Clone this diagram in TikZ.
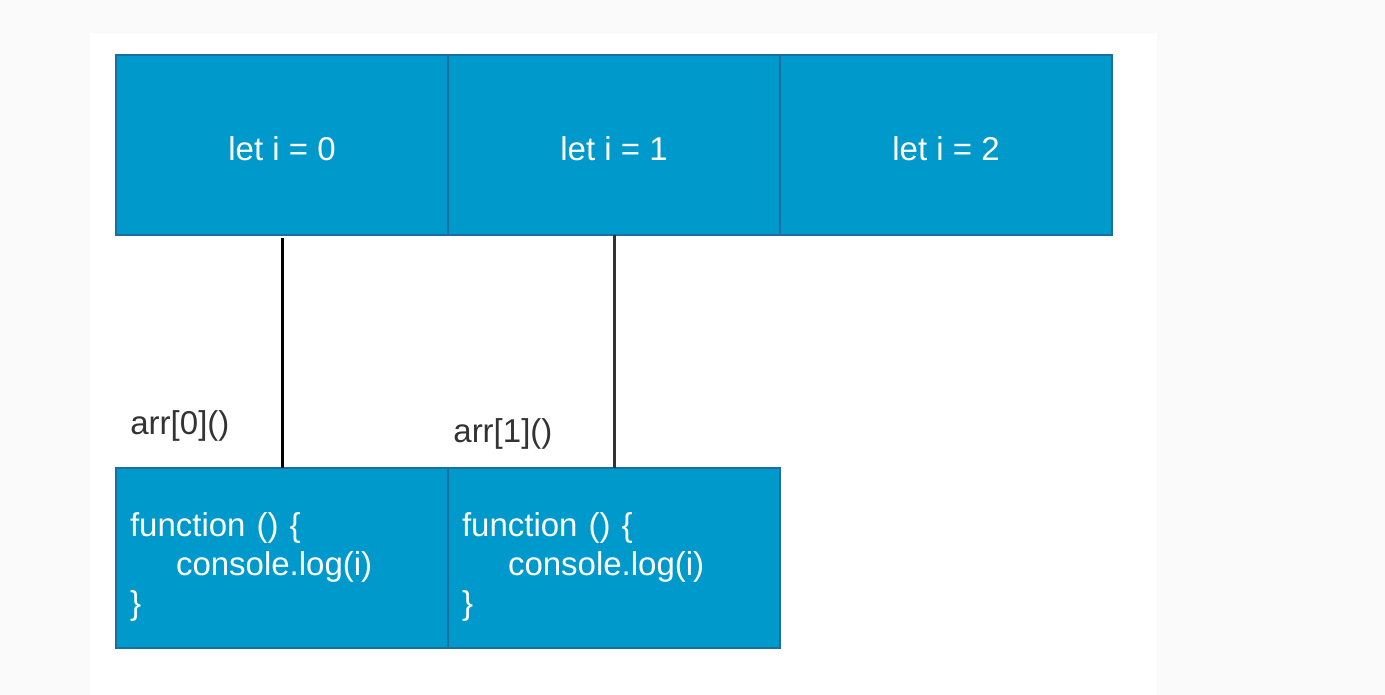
\documentclass[tikz,border=0pt]{standalone}
\usepackage{fontspec}
\setmainfont{Liberation Sans}
\usetikzlibrary{positioning}
\definecolor{cellblue}{HTML}{0099CC}
\definecolor{cellline}{HTML}{1A6EA0}
\definecolor{labelgray}{HTML}{333333}
\definecolor{pagegray}{HTML}{FAFAFA}
\tikzset{
  cell/.style={draw=cellline,line width=1pt,fill=cellblue,text=white,outer sep=0pt,
    minimum width=166pt,minimum height=90pt,inner sep=0pt,
    font=\fontsize{16.5pt}{19.5pt}\selectfont},
  letcell/.style={cell,text height=16pt},
  codecell/.style={cell,text width=152pt,inner xsep=7pt,align=left,
    execute at begin node=\rule{0pt}{21pt}},
  tag/.style={text=labelgray,inner sep=0pt,font=\fontsize{16.5pt}{19.5pt}\selectfont},
  link/.style={line width=1.5pt}
}
\begin{document}
\begin{tikzpicture}[x=0.5pt,y=-0.5pt]
\fill[pagegray](0,0) rectangle (1385,695);
\fill[white](90,33) rectangle (1157,695);
\useasboundingbox(0,0) rectangle (1385,695);
\node[letcell](T0) at (282,145){let i = 0};
\node[letcell,right=0pt of T0](T1){let i = 1};
\node[letcell,right=0pt of T1](T2){let i = 2};
\node[codecell,below=116.5pt of T0](F0){function () \{\\\hspace*{23pt}console.log(i)\\\}};
\node[codecell,right=0pt of F0](F1){function () \{\\\hspace*{23pt}console.log(i)\\\}};
\node[tag,above right=13pt and 7pt of F0.north west](A0){arr[0]()};
\node[tag,above right=9pt and 2.5pt of F1.north west](A1){arr[1]()};
\draw[link,shorten <=1.5pt](T0)--(F0);
\draw[link,labelgray](T1)--(F1);
\end{tikzpicture}
\end{document}
